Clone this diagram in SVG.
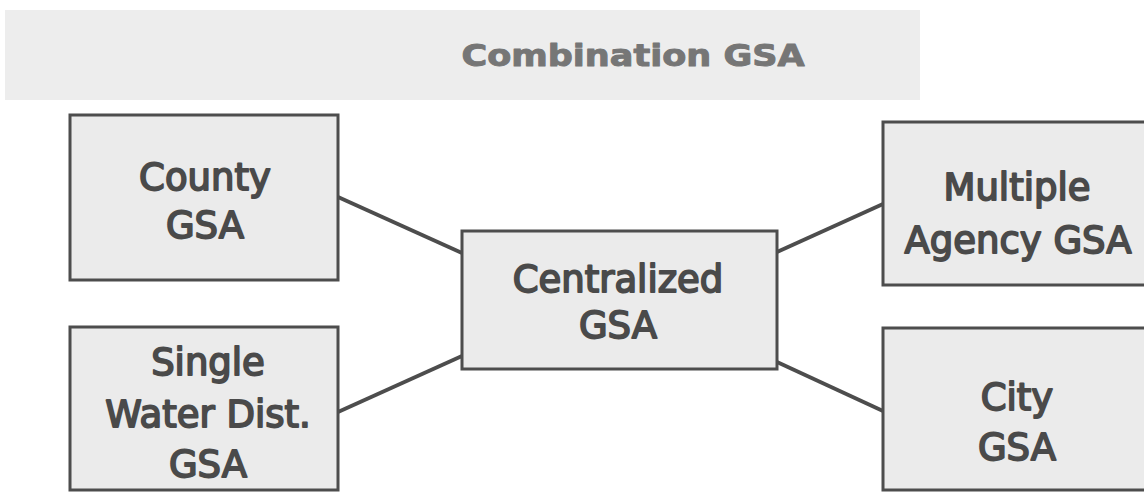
<svg xmlns="http://www.w3.org/2000/svg" width="1144" height="492" viewBox="0 0 1144 492">
<style>
.box{fill:#ebebeb;stroke:#4d4d4d;stroke-width:3}
.t{font-family:"DejaVu Sans",Verdana,sans-serif;font-size:37px;fill:#4a4a4a;stroke:#4a4a4a;stroke-width:1.8;stroke-linejoin:round;text-anchor:middle}
.title{font-family:"DejaVu Sans",Verdana,sans-serif;font-weight:bold;font-size:31px;fill:#767676;stroke:#767676;stroke-width:1;stroke-linejoin:round;text-anchor:middle}
.c{stroke:#4d4d4d;stroke-width:4;fill:none}
</style>
<rect x="0" y="0" width="1144" height="492" fill="#ffffff"/>
<g id="title">
<rect x="5" y="10" width="915" height="90" fill="#ededed"/>
<text class="title" x="633" y="66" textLength="343" lengthAdjust="spacingAndGlyphs">Combination GSA</text>
</g>
<g id="connectors">
<line class="c" x1="338" y1="197" x2="462" y2="253"/>
<line class="c" x1="338" y1="412" x2="462" y2="356"/>
<line class="c" x1="777" y1="252" x2="883" y2="204"/>
<line class="c" x1="777" y1="362" x2="883" y2="411"/>
</g>
<g id="county">
<rect class="box" x="70" y="115" width="268" height="165"/>
<text class="t" x="205" y="190">County</text>
<text class="t" x="205" y="238">GSA</text>
</g>
<g id="single">
<rect class="box" x="70" y="327" width="268" height="163"/>
<text class="t" x="208" y="375">Single</text>
<text class="t" x="208" y="427">Water Dist.</text>
<text class="t" x="208" y="477">GSA</text>
</g>
<g id="centralized">
<rect class="box" x="462" y="231" width="315" height="138"/>
<text class="t" x="618" y="292">Centralized</text>
<text class="t" x="618" y="338">GSA</text>
</g>
<g id="multiple">
<rect class="box" x="883" y="122" width="270" height="163"/>
<text class="t" x="1017" y="200">Multiple</text>
<text class="t" x="1018" y="253">Agency GSA</text>
</g>
<g id="city">
<rect class="box" x="883" y="328" width="270" height="162"/>
<text class="t" x="1017" y="410">City</text>
<text class="t" x="1017" y="460">GSA</text>
</g>
</svg>
